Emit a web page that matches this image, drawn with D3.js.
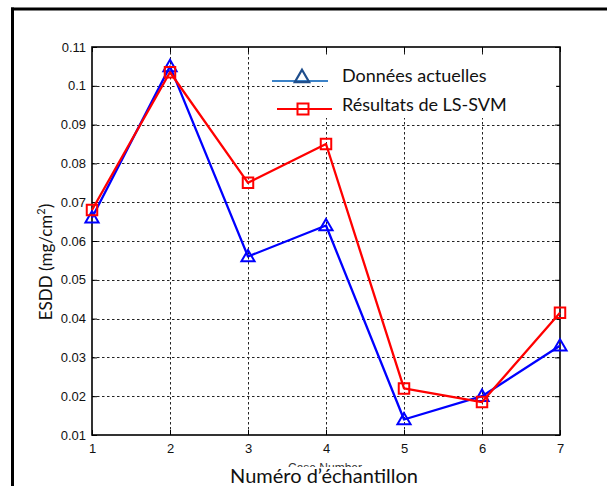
<!DOCTYPE html>
<html><head><meta charset="utf-8">
<script src="https://cdn.jsdelivr.net/npm/d3@7"></script>
<style>html,body{margin:0;padding:0;background:#fff;}svg{display:block;}</style>
</head><body>
<svg id="c" width="607" height="486"></svg>
<script>
const caseNumbers = [1, 2, 3, 4, 5, 6, 7];
const actual = [0.066, 0.105, 0.056, 0.064, 0.014, 0.020, 0.033];
const lssvm = [0.068, 0.1035, 0.075, 0.085, 0.022, 0.0185, 0.0415];
const yTicks = [0.01, 0.02, 0.03, 0.04, 0.05, 0.06, 0.07, 0.08, 0.09, 0.1, 0.11];
const xTicks = [1, 2, 3, 4, 5, 6, 7];
const seriesNames = ["Données actuelles", "Résultats de LS-SVM"];

const svg = d3.select("#c");
const L = 92, R = 560, T = 47, B = 435;
const x = d3.scaleLinear().domain([1, 7]).range([L, R]);
const y = d3.scaleLinear().domain([0.01, 0.11]).range([B, T]);

// outer frame (top & left visible)
svg.append("line").attr("x1", 11).attr("x2", 607).attr("y1", 9).attr("y2", 9).attr("stroke", "#000").attr("stroke-width", 3);
svg.append("line").attr("x1", 12.5).attr("x2", 12.5).attr("y1", 7.5).attr("y2", 486).attr("stroke", "#000").attr("stroke-width", 3);

// grid
const grid = svg.append("g").attr("stroke", "#222").attr("stroke-width", 1).attr("stroke-dasharray", "2.5,2.5");
grid.selectAll(".gx").data(xTicks.slice(1, -1)).enter().append("line")
  .attr("x1", d => Math.round(x(d)) + 0.5).attr("x2", d => Math.round(x(d)) + 0.5).attr("y1", T).attr("y2", B);
grid.selectAll(".gy").data(yTicks.slice(1, -1)).enter().append("line")
  .attr("y1", d => Math.round(y(d)) + 0.5).attr("y2", d => Math.round(y(d)) + 0.5).attr("x1", L).attr("x2", R);

// axes
const fontAx = "'Liberation Sans', Arial, sans-serif";
const yAxis = d3.axisLeft(y).tickValues(yTicks).tickFormat(d => d3.format("")(+d.toFixed(2))).tickSizeInner(-5).tickSizeOuter(0).tickPadding(6);
const yAxisR = d3.axisRight(y).tickValues(yTicks).tickFormat("").tickSizeInner(-5).tickSizeOuter(0);
const xAxis = d3.axisBottom(x).tickValues(xTicks).tickFormat(d3.format("d")).tickSizeInner(-5).tickSizeOuter(0).tickPadding(9);
const xAxisT = d3.axisTop(x).tickValues(xTicks).tickFormat("").tickSizeInner(-5).tickSizeOuter(0);

function styleAxis(g) {
  g.select(".domain").remove();
  g.selectAll("line").attr("stroke", "#000").attr("stroke-width", 1);
  g.selectAll("text").attr("font-family", fontAx).attr("font-size", 13).attr("fill", "#111");
}
svg.append("g").attr("transform", `translate(${L},0)`).call(yAxis).call(styleAxis);
svg.append("g").attr("transform", `translate(${R},0)`).call(yAxisR).call(styleAxis);
svg.append("g").attr("transform", `translate(0,${B})`).call(xAxis).call(styleAxis);
svg.append("g").attr("transform", `translate(0,${T})`).call(xAxisT).call(styleAxis);

// box
svg.append("rect").attr("x", L).attr("y", T).attr("width", R - L).attr("height", B - T)
  .attr("fill", "none").attr("stroke", "#000").attr("stroke-width", 1.6);

// series
const line = d3.line().x((d, i) => x(caseNumbers[i])).y(d => y(d));
const tri = d3.symbol().type(d3.symbolTriangle).size(75);
const sq = d3.symbol().type(d3.symbolSquare).size(110);

function drawSeries(vals, color, sym, dy) {
  svg.append("path").datum(vals).attr("d", line).attr("fill", "none").attr("stroke", color).attr("stroke-width", 2.3).attr("stroke-linejoin", "round");
  svg.selectAll(null).data(vals).enter().append("path")
    .attr("d", sym).attr("transform", (d, i) => `translate(${x(caseNumbers[i])},${y(d) + dy})`)
    .attr("fill", "none").attr("stroke", color).attr("stroke-width", 2);
}
drawSeries(actual, "#0000ff", tri, 1);
drawSeries(lssvm, "#ff0000", sq, 0);

// legend
const fontC = "Lato, 'Open Sans', sans-serif";
svg.append("rect").attr("x", 323).attr("y", 56).attr("width", 233).attr("height", 62).attr("fill", "#fff");
svg.append("line").attr("x1", 272).attr("x2", 328).attr("y1", 81).attr("y2", 81).attr("stroke", "#3b82c8").attr("stroke-width", 2);
svg.append("path").attr("d", d3.symbol().type(d3.symbolTriangle).size(90)).attr("transform", "translate(302,78)")
  .attr("fill", "none").attr("stroke", "#1f4e8c").attr("stroke-width", 2.2);
svg.append("line").attr("x1", 277).attr("x2", 332).attr("y1", 109).attr("y2", 109).attr("stroke", "#ff0000").attr("stroke-width", 2);
svg.append("rect").attr("x", 297.5).attr("y", 103.5).attr("width", 11).attr("height", 11)
  .attr("fill", "none").attr("stroke", "#ff0000").attr("stroke-width", 2);
svg.append("text").attr("x", 342).attr("y", 82).attr("font-family", fontC).attr("font-size", 18).attr("fill", "#111").text(seriesNames[0]);
svg.append("text").attr("x", 342).attr("y", 111).attr("font-family", fontC).attr("font-size", 18).attr("fill", "#111").text(seriesNames[1]);

// axis titles
svg.append("text").attr("x", 325).attr("y", 472).attr("text-anchor", "middle").attr("font-family", fontAx).attr("font-size", 12).attr("fill", "#333").text("Case Number");
svg.append("rect").attr("x", 200).attr("y", 467).attr("width", 250).attr("height", 19).attr("fill", "#fff");
svg.append("text").attr("x", 324).attr("y", 483).attr("text-anchor", "middle").attr("font-family", fontC).attr("font-size", 20).attr("fill", "#111").text("Numéro d’échantillon");

const yl = svg.append("text").attr("transform", "translate(52,262) rotate(-90)").attr("text-anchor", "middle")
  .attr("font-family", fontC).attr("font-size", 17).attr("fill", "#111");
yl.append("tspan").text("ESDD (mg/cm");
yl.append("tspan").attr("font-size", 11).attr("dy", -7).text("2");
yl.append("tspan").attr("dy", 7).text(")");
</script>
</body></html>
